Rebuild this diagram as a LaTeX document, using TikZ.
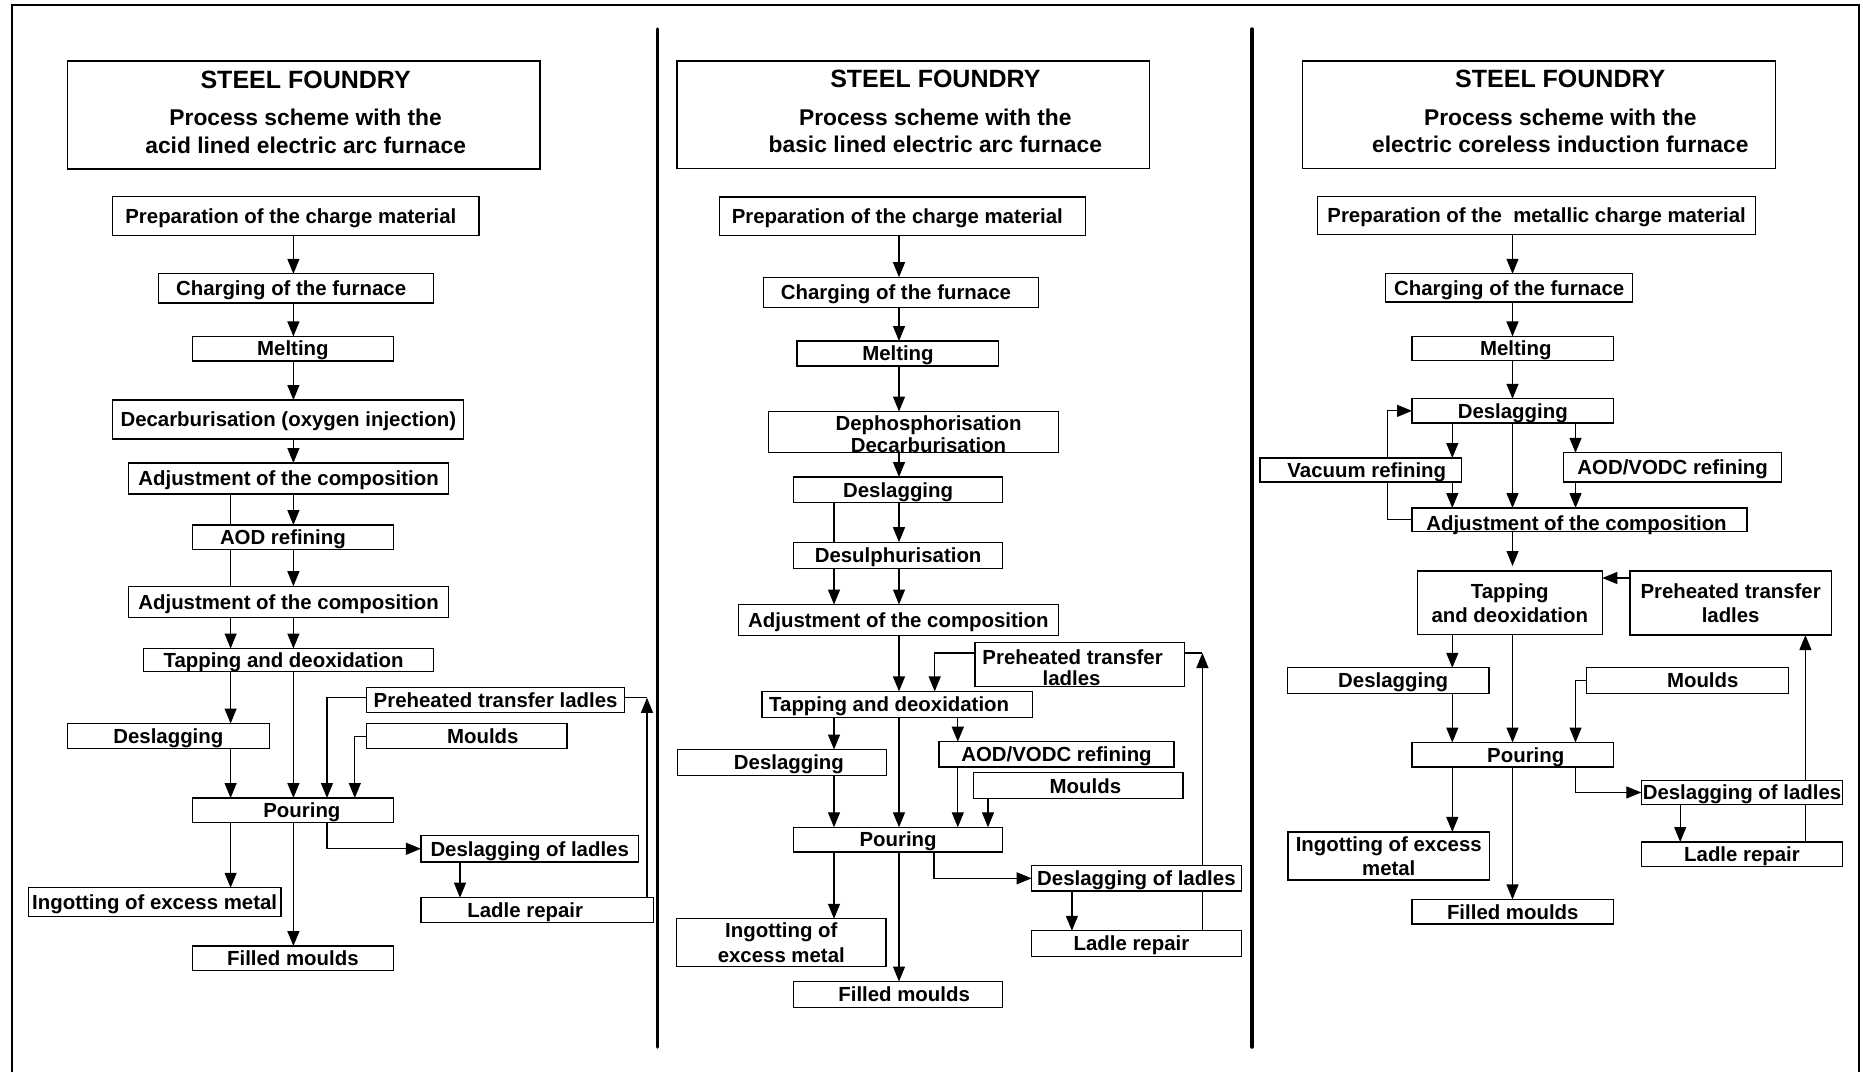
\documentclass[tikz,border=0pt]{standalone}
\usepackage{fontspec}
\setmainfont{Liberation Sans}
\usetikzlibrary{arrows.meta}
\pgfdeclarelayer{bg}
\pgfsetlayers{bg,main}
\newcommand\sft[2]{\hspace*{#1pt}#2\hspace*{-#1pt}}
\newcommand\bx[7][box]{\node[#1,minimum width={(#5-#3)*1pt},minimum height={(#6-#4)*1pt}] (#2) at ({(#3+#5)/2},{(#4+#6)/2}) {#7};}
\newcommand\ttl[2]{\hspace*{#1pt}\begin{tabular}{@{}c@{}}\fontsize{25}{27.5}\selectfont STEEL FOUNDRY\\[10pt]\fontsize{22.8}{27.5}\selectfont Process scheme with the\\\fontsize{22.8}{27.5}\selectfont #2\end{tabular}}
\tikzset{
  boxbase/.style={draw, line width=1.3pt, fill=white, inner sep=0pt, outer sep=0pt},
  box/.style={boxbase, font=\bfseries\fontsize{20.4}{24}\selectfont, text height=18.6pt, text depth=4pt},
  boxm/.style={boxbase, align=center, font=\bfseries\fontsize{20.4}{24}\selectfont},
  boxt/.style={boxbase, font=\bfseries\fontsize{25}{27.5}\selectfont},
  conn/.style={line width=1.2pt},
  arr/.style={conn, -{Triangle[length=15pt,width=12pt]}},
}
\begin{document}
\begin{tikzpicture}[x=1pt,y=-1pt]
\useasboundingbox (0,0) rectangle (1863,1072);
% frame and separators
\draw[line width=2pt] (12,1072) -- (12,5) -- (1858.5,5) -- (1858.5,1072);
\draw[line width=3.5pt, line cap=round] (657.7,29) -- (657.7,1047);
\draw[line width=3.5pt, line cap=round] (1252,29) -- (1252,1047);
% channel coordinates
\coordinate (La) at (293.4,0); \coordinate (Lb) at (230.6,0); \coordinate (Lc) at (327,0);
\coordinate (Ld) at (354.8,0); \coordinate (Lg) at (460,0); \coordinate (Lh) at (647,0);
\coordinate (Lpy) at (0,697.8);
\coordinate (Ma) at (899,0); \coordinate (Mb) at (834,0); \coordinate (Mc) at (934.7,0);
\coordinate (Md) at (957.8,0); \coordinate (Me) at (988,0); \coordinate (Mf) at (933.9,0);
\coordinate (Mg) at (1071.9,0); \coordinate (Mh) at (1202.4,0);
\coordinate (Mpy) at (0,653);
\coordinate (Ra) at (1512.5,0); \coordinate (Rb) at (1452.3,0); \coordinate (Rc) at (1575.5,0);
\coordinate (Rd) at (1387.8,0); \coordinate (Rg) at (1680.2,0); \coordinate (Rh) at (1805.4,0);
\coordinate (Rpy) at (0,578);
% ---------------- left panel
\bx[boxt]{L0}{67.3}{61}{540}{169}{\ttl{4}{acid lined electric arc furnace}}
\bx{Lprep}{112.8}{196.6}{479}{235.2}{\sft{-5}{Preparation of the charge material}}
\bx{Lcharge}{158.7}{273.8}{433.5}{303}{\sft{-5}{Charging of the furnace}}
\bx{Lmelt}{192.3}{336.4}{393.5}{360.9}{Melting}
\bx{Ldecarb}{112.8}{400}{463.8}{439}{Decarburisation (oxygen injection)}
\bx{Ladj1}{128.4}{463}{448.7}{494}{Adjustment of the composition}
\bx{Laod}{192.3}{525}{393.5}{549.2}{\sft{-10}{AOD refining}}
\bx{Ladj2}{128.4}{586.2}{448.7}{617.5}{Adjustment of the composition}
\bx{Ltap}{143.5}{648.5}{433.5}{671.4}{\sft{-5}{Tapping and deoxidation}}
\bx{Lpre}{366.6}{687.2}{624.6}{712.5}{Preheated transfer ladles}
\bx{Ldes}{67.3}{723.5}{269.4}{748.8}{Deslagging}
\bx{Lmould}{366.6}{723.8}{567}{748.8}{\sft{16}{Moulds}}
\bx{Lpour}{192.3}{798}{393.5}{822.7}{\sft{9}{Pouring}}
\bx{Ldesl}{420.9}{835.4}{638.5}{862.1}{Deslagging of ladles}
\bx{Lingot}{28.2}{887.8}{281.1}{916.7}{Ingotting of excess metal}
\bx{Lrep}{420.9}{897.7}{653.6}{922.3}{\sft{-12}{Ladle repair}}
\bx{Lfill}{192.3}{946}{393.5}{970.5}{Filled moulds}
% ---------------- middle panel
\bx[boxt]{M0}{676.9}{61}{1149.8}{168.7}{\ttl{44}{basic lined electric arc furnace}}
\bx{Mprep}{719.2}{197}{1085.4}{235.5}{\sft{-5}{Preparation of the charge material}}
\bx{Mcharge}{763.5}{277.2}{1038.3}{307.2}{\sft{-5}{Charging of the furnace}}
\bx{Mmelt}{797.1}{341}{998.8}{366}{Melting}
\bx[boxm,font=\bfseries\fontsize{20.4}{21.5}\selectfont]{Mdephos}{768.6}{411.5}{1058.5}{452.8}{\rule{0pt}{19pt}\sft{15}{Dephosphorisation}\\\sft{15}{Decarburisation}}
\bx{Mdes1}{793.5}{477}{1002.7}{502.8}{Deslagging}
\bx{Mdesul}{793.5}{542.2}{1002.7}{568.2}{Desulphurisation}
\bx{Madj}{738.2}{604.5}{1058.5}{635.5}{Adjustment of the composition}
\bx[boxm,font=\bfseries\fontsize{20.4}{21.5}\selectfont]{Mpre}{975}{642.8}{1184.2}{686.5}{\rule{0pt}{21pt}\sft{-7}{Preheated transfer}\\\sft{-8}{ladles}}
\bx{Mtap}{761.9}{691.4}{1032.4}{717.8}{\sft{-8}{Tapping and deoxidation}}
\bx{Mdes2}{677.3}{749.5}{886.5}{775.2}{\sft{7}{Deslagging}}
\bx{Maod}{939}{741.7}{1174}{767}{AOD/VODC refining}
\bx{Mmould}{973.8}{772.7}{1183}{798.8}{\sft{7}{Moulds}}
\bx{Mpour}{793.5}{827.3}{1002.7}{852}{Pouring}
\bx{Mdesl}{1031.6}{865.6}{1241.2}{891}{Deslagging of ladles}
\bx[boxm,font=\bfseries\fontsize{20.4}{25.4}\selectfont]{Mingot}{676.5}{918.8}{886.1}{966.3}{Ingotting of\\excess metal}
\bx{Mfill}{793.5}{981.5}{1002.7}{1007.5}{\sft{6}{Filled moulds}}
\bx{Mrep}{1031.6}{930.8}{1241.2}{956.5}{\sft{-5}{Ladle repair}}
% ---------------- right panel
\bx[boxt]{R0}{1302.4}{61}{1775.2}{168.7}{\ttl{43}{electric coreless induction furnace}}
\bx{Rprep}{1317.5}{196.3}{1755.7}{234.8}{Preparation of the\ \ metallic charge material}
\bx{Rcharge}{1385.8}{273.8}{1632.5}{302}{Charging of the furnace}
\bx{Rmelt}{1412}{336.4}{1613.5}{360.5}{\sft{3}{Melting}}
\bx{Rdes1}{1412}{398.8}{1613.5}{422.9}{Deslagging}
\bx{Rvac}{1259.9}{458}{1461.7}{482.1}{\sft{6}{Vacuum refining}}
\bx{Raod}{1563.8}{452.8}{1781.5}{482.1}{AOD/VODC refining}
\bx{Radj}{1412}{508}{1747}{531.3}{\raisebox{-4pt}{\sft{-3}{Adjustment of the composition}}}
\bx[boxm]{Rtap}{1417.2}{571}{1602.3}{634.4}{Tapping\\and deoxidation}
\bx[boxm]{Rpre}{1630.1}{571}{1831.2}{635.1}{Preheated transfer\\ladles}
\bx{Rdes2}{1287.3}{667.8}{1489.1}{693.2}{\sft{5}{Deslagging}}
\bx{Rmould}{1586.8}{667.8}{1788.7}{693.2}{\sft{15}{Moulds}}
\bx{Rpour}{1412}{742.5}{1613.5}{767.1}{\sft{13}{Pouring}}
\bx{Rdesl}{1641.3}{780.5}{1842.7}{804.4}{Deslagging of ladles}
\bx[boxm]{Ringot}{1288}{831.9}{1489.5}{880}{Ingotting of excess\\metal}
\bx{Rrep}{1641.3}{842}{1842.7}{866.7}{Ladle repair}
\bx{Rfill}{1412}{899.4}{1613.5}{924.1}{Filled moulds}
% ---------------- connectors
\begin{pgfonlayer}{bg}
% left
\draw[arr] (Lprep.south -| La) -- (Lcharge.north -| La);
\draw[arr] (Lcharge.south -| La) -- (Lmelt.north -| La);
\draw[arr] (Lmelt.south -| La) -- (Ldecarb.north -| La);
\draw[arr] (Ldecarb.south -| La) -- (Ladj1.north -| La);
\draw[arr] (Ladj1.south -| La) -- (Laod.north -| La);
\draw[arr] (Laod.south -| La) -- (Ladj2.north -| La);
\draw[conn] (Ladj1.south -| Lb) -- (Ladj2.north -| Lb);
\draw[arr] (Ladj2.south -| Lb) -- (Ltap.north -| Lb);
\draw[arr] (Ladj2.south -| La) -- (Ltap.north -| La);
\draw[arr] (Ltap.south -| Lb) -- (Ldes.north -| Lb);
\draw[arr] (Ltap.south -| La) -- (Lpour.north -| La);
\draw[arr] (Ldes.south -| Lb) -- (Lpour.north -| Lb);
\draw[arr] (Lpre.west |- Lpy) -| (Lpour.north -| Lc);
\draw[arr] (Lmould.west) -| (Lpour.north -| Ld);
\draw[arr] (Lpour.south -| Lb) -- (Lingot.north -| Lb);
\draw[arr] (Lpour.south -| La) -- (Lfill.north -| La);
\draw[arr] (Lpour.south -| Lc) |- (Ldesl.west);
\draw[arr] (Ldesl.south -| Lg) -- (Lrep.north -| Lg);
\draw[arr] (Lrep.north -| Lh) -- (Lpy -| Lh);
\draw[conn] (Lpre.east |- Lpy) -- (Lpy -| Lh);
% middle
\draw[arr] (Mprep.south -| Ma) -- (Mcharge.north -| Ma);
\draw[arr] (Mcharge.south -| Ma) -- (Mmelt.north -| Ma);
\draw[arr] (Mmelt.south -| Ma) -- (Mdephos.north -| Ma);
\draw[arr] (Mdephos.south -| Ma) -- (Mdes1.north -| Ma);
\draw[arr] (Mdes1.south -| Ma) -- (Mdesul.north -| Ma);
\draw[conn] (Mdes1.south -| Mb) -- (Mdesul.north -| Mb);
\draw[arr] (Mdesul.south -| Mb) -- (Madj.north -| Mb);
\draw[arr] (Mdesul.south -| Ma) -- (Madj.north -| Ma);
\draw[arr] (Madj.south -| Ma) -- (Mtap.north -| Ma);
\draw[arr] (Mpre.west |- Mpy) -| (Mtap.north -| Mc);
\draw[conn] (Mpre.east |- Mpy) -- (Mpy -| Mh);
\draw[arr] (Mrep.north -| Mh) -- (Mpy -| Mh);
\draw[arr] (Mtap.south -| Mb) -- (Mdes2.north -| Mb);
\draw[arr] (Mtap.south -| Ma) -- (Mpour.north -| Ma);
\draw[arr] (Mtap.south -| Md) -- (Maod.north -| Md);
\draw[arr] (Maod.south -| Md) -- (Mpour.north -| Md);
\draw[arr] (Mmould.south -| Me) -- (Mpour.north -| Me);
\draw[arr] (Mdes2.south -| Mb) -- (Mpour.north -| Mb);
\draw[arr] (Mpour.south -| Mb) -- (Mingot.north -| Mb);
\draw[arr] (Mpour.south -| Ma) -- (Mfill.north -| Ma);
\draw[arr] (Mpour.south -| Mf) |- (Mdesl.west);
\draw[arr] (Mdesl.south -| Mg) -- (Mrep.north -| Mg);
% right
\draw[arr] (Rprep.south -| Ra) -- (Rcharge.north -| Ra);
\draw[arr] (Rcharge.south -| Ra) -- (Rmelt.north -| Ra);
\draw[arr] (Rmelt.south -| Ra) -- (Rdes1.north -| Ra);
\draw[arr] (Rdes1.south -| Rb) -- (Rvac.north -| Rb);
\draw[arr] (Rdes1.south -| Ra) -- (Radj.north -| Ra);
\draw[arr] (Rdes1.south -| Rc) -- (Raod.north -| Rc);
\draw[arr] (Rvac.south -| Rb) -- (Radj.north -| Rb);
\draw[arr] (Raod.south -| Rc) -- (Radj.north -| Rc);
\draw[arr] (Radj.west) -| (Rdes1.west -| Rd) -- (Rdes1.west);
\draw[arr, shorten >=5pt] (Radj.south -| Ra) -- (Rtap.north -| Ra);
\draw[arr] (Rpre.west |- Rpy) -- (Rtap.east |- Rpy);
\draw[arr] (Rtap.south -| Rb) -- (Rdes2.north -| Rb);
\draw[arr] (Rtap.south -| Ra) -- (Rpour.north -| Ra);
\draw[arr] (Rmould.west) -| (Rpour.north -| Rc);
\draw[arr] (Rdes2.south -| Rb) -- (Rpour.north -| Rb);
\draw[arr] (Rpour.south -| Rb) -- (Ringot.north -| Rb);
\draw[arr] (Rpour.south -| Ra) -- (Rfill.north -| Ra);
\draw[arr] (Rpour.south -| Rc) |- (Rdesl.west);
\draw[arr] (Rdesl.south -| Rg) -- (Rrep.north -| Rg);
\draw[arr] (Rrep.north -| Rh) -- (Rpre.south -| Rh);
\end{pgfonlayer}
\end{tikzpicture}
\end{document}
